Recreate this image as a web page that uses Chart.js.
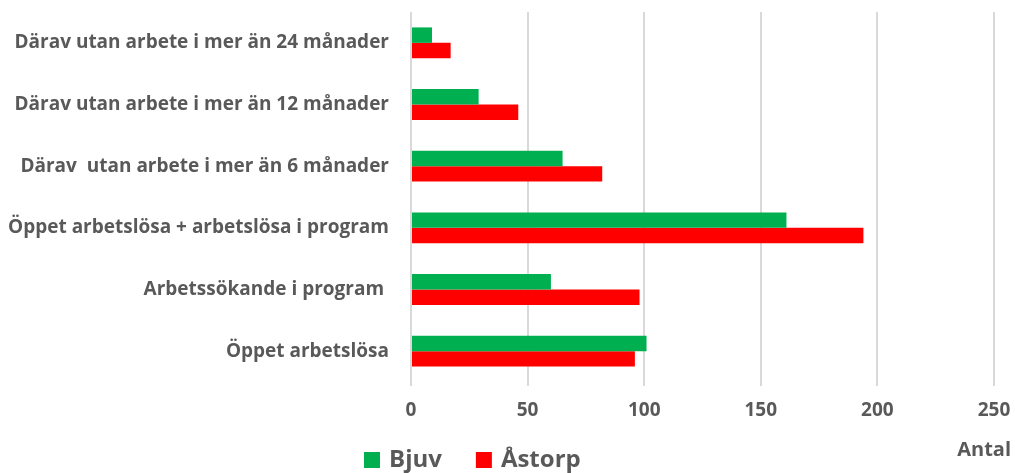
<!DOCTYPE html>
<html>
<head>
<meta charset="utf-8">
<script src="https://cdn.jsdelivr.net/npm/chart.js@4"></script>
<style>
  html, body { margin: 0; padding: 0; background: #fff; }
  #wrap { width: 1015px; height: 473px; }
</style>
</head>
<body>
<div id="wrap"><canvas id="barChart"></canvas></div>
<script>
// kategorier uppifrån och ner
var categories = [
    'Därav utan arbete i mer än 24 månader',
    'Därav utan arbete i mer än 12 månader',
    'Därav  utan arbete i mer än 6 månader',
    'Öppet arbetslösa + arbetslösa i program',
    'Arbetssökande i program ',
    'Öppet arbetslösa'
];
var bjuv = [9, 29, 65, 161, 60, 101];
var astorp = [17, 46, 82, 194, 98, 96];
var xTicks = [0, 50, 100, 150, 200, 250];
var axisTitle = 'Antal';

var textColor = '#595959';
var fontFamily = '"Open Sans", sans-serif';

// egen legend + axeltitel längst ner, som i Excel-bilden
var bottomPlugin = {
    id: 'bottomLegend',
    afterDraw: function(chart) {
        var ctx = chart.ctx;
        var x = 364;
        var y = 460;
        ctx.save();
        ctx.textBaseline = 'middle';
        ctx.font = 'bold 20px ' + fontFamily;
        ctx.fillStyle = textColor;
        ctx.textAlign = 'right';
        ctx.fillText(axisTitle, 1011, 450);

        ctx.font = 'bold 24px ' + fontFamily;
        ctx.textAlign = 'left';
        chart.data.datasets.forEach(function(ds) {
            ctx.fillStyle = ds.backgroundColor;
            ctx.fillRect(x, y - 8, 16, 16);
            ctx.fillStyle = textColor;
            ctx.fillText(ds.label, x + 25, y);
            x += 25 + ctx.measureText(ds.label).width + 34;
        });
        ctx.restore();
    }
};

var ctx = document.getElementById('barChart').getContext('2d');
var chart = new Chart(ctx, {
    type: 'bar',
    data: {
        labels: categories,
        datasets: [
            { label: 'Bjuv', data: bjuv, backgroundColor: '#00B050' },
            { label: 'Åstorp', data: astorp, backgroundColor: '#FF0000' }
        ]
    },
    options: {
        indexAxis: 'y',
        responsive: true,
        maintainAspectRatio: false,
        animation: false,
        categoryPercentage: 0.5,
        barPercentage: 1.0,
        layout: { padding: 0 },
        plugins: {
            legend: { display: false },
            tooltip: { enabled: false }
        },
        scales: {
            x: {
                min: 0,
                max: 250,
                afterBuildTicks: function(scale) {
                    scale.ticks = xTicks.map(function(v) { return { value: v }; });
                },
                afterFit: function(scale) {
                    scale.height = 91;
                    scale.paddingLeft = 0;
                    scale.paddingRight = 21;
                },
                grid: { color: '#d9d9d9', lineWidth: 2, tickLength: 4 },
                border: { display: false },
                ticks: {
                    color: textColor,
                    padding: 13,
                    font: { family: fontFamily, size: 19, weight: 'bold' }
                }
            },
            y: {
                afterFit: function(scale) {
                    scale.width = 411;
                    scale.paddingTop = 12;
                    scale.paddingBottom = 0;
                },
                grid: { display: false },
                border: { display: false },
                ticks: {
                    color: textColor,
                    padding: 14,
                    font: { family: fontFamily, size: 19, weight: 'bold' }
                }
            }
        }
    },
    plugins: [bottomPlugin]
});
</script>
</body>
</html>
